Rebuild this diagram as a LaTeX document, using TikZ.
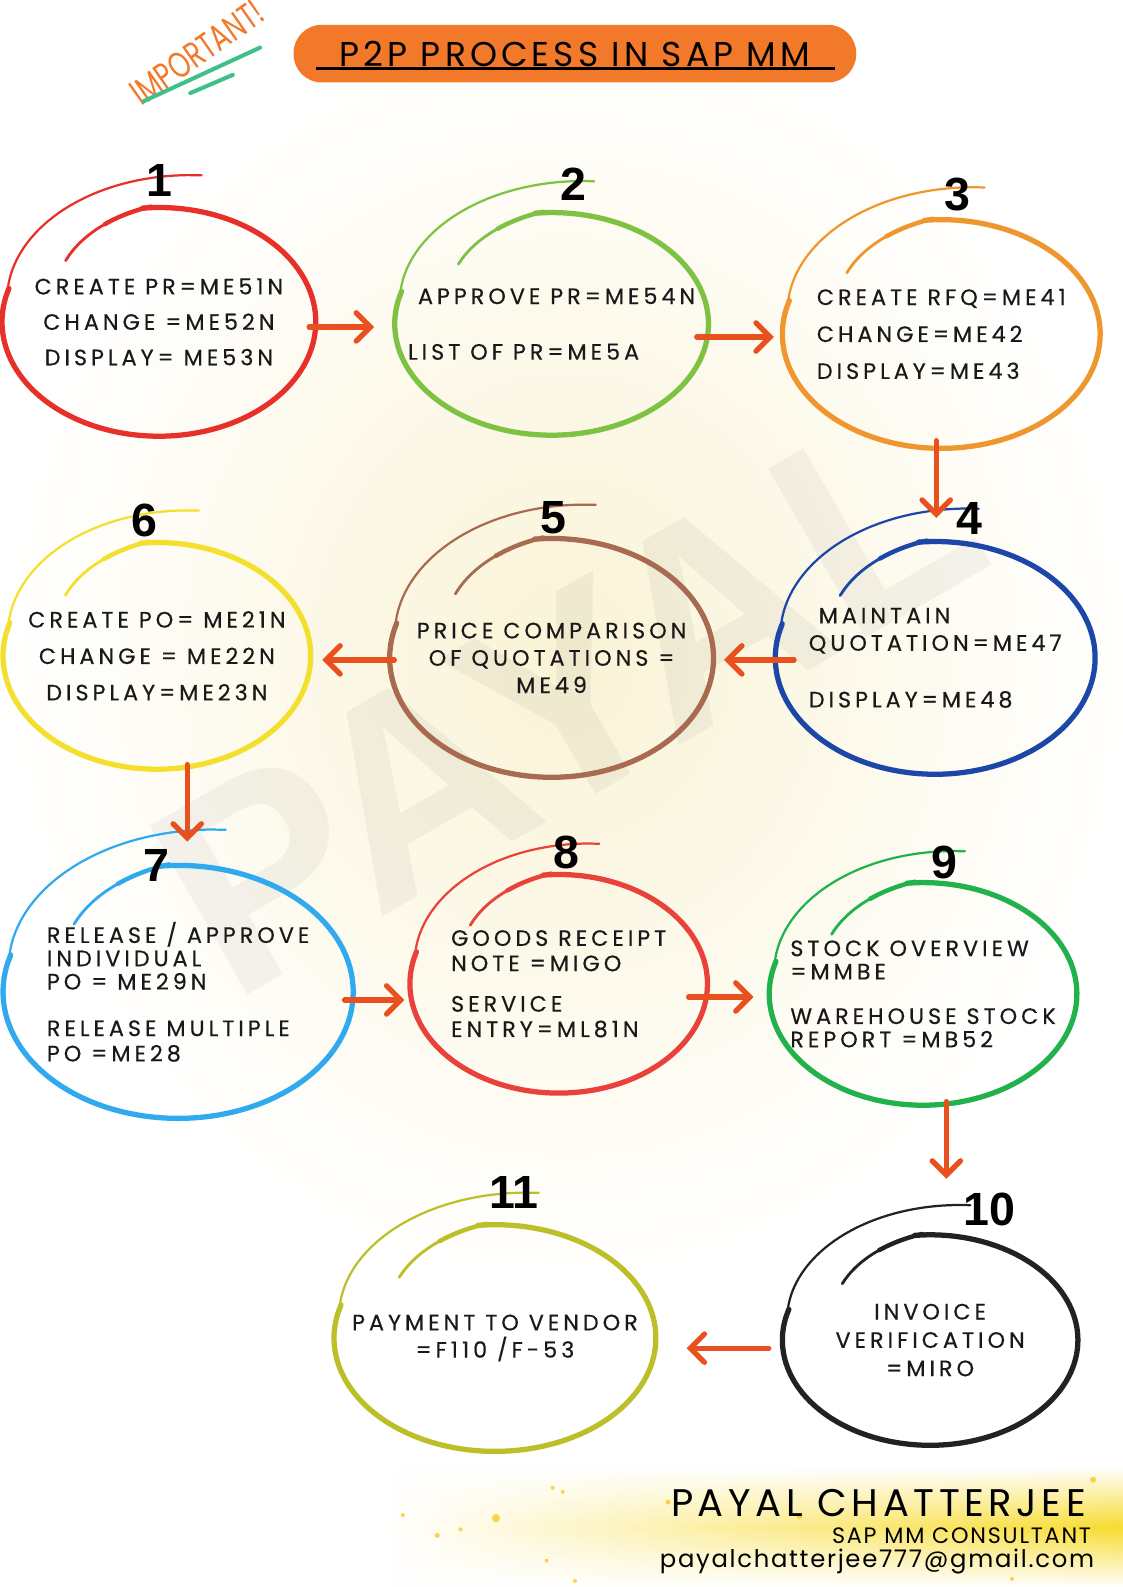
\documentclass[tikz,border=0pt]{standalone}
\usepackage{fontspec}
\setmainfont{Poppins}
\newfontfamily\bodyfont[LetterSpace=18,FakeBold=0.4]{Poppins}
\newfontfamily\signfont{Poppins}
\newfontfamily\numfont{Liberation Sans}
\newfontfamily\handfont[FakeStretch=0.72]{Poppins}
\usetikzlibrary{arrows.meta,positioning,fadings}

\definecolor{ringRed}{HTML}{E8302A}
\definecolor{ringGreen}{HTML}{7DC242}
\definecolor{ringOrange}{HTML}{F0962E}
\definecolor{ringBlue}{HTML}{1C47A8}
\definecolor{ringBrown}{HTML}{A86A50}
\definecolor{ringYellow}{HTML}{F5DF2E}
\definecolor{ringSky}{HTML}{30A9EE}
\definecolor{ringRose}{HTML}{E8423A}
\definecolor{ringEmerald}{HTML}{22B24C}
\definecolor{ringBlack}{HTML}{222222}
\definecolor{ringOlive}{HTML}{BDBF28}
\definecolor{arrowRed}{HTML}{E8501E}
\definecolor{headOrange}{HTML}{F2782A}
\definecolor{impGreen}{HTML}{3FBF8A}
\definecolor{glow}{HTML}{FAF3D6}
\definecolor{signYellow}{HTML}{F8DC30}

\tikzfading[name=bandfade, top color=transparent!100, bottom color=transparent!100, middle color=transparent!0]

% hand drawn loop: centre x, centre y, x radius, y radius, colour
\newcommand{\ring}[5]{%
  \draw[#5, line width=1.4pt, line cap=round] plot[smooth, domain=138:110, samples=8, variable=\t]
    ({#1+(0.80+0.20*(138-\t)/43)*#3*cos(\t)},{#2+(0.80+0.20*(138-\t)/43)*#4*sin(\t)});
  \draw[#5, line width=2.2pt, line cap=round] plot[smooth, domain=112:93, samples=6, variable=\t]
    ({#1+(0.80+0.20*(138-\t)/43)*#3*cos(\t)},{#2+(0.80+0.20*(138-\t)/43)*#4*sin(\t)});
  \draw[#5, line width=2.6pt, line cap=round] plot[smooth, domain=96:-197, samples=60, variable=\t]
    ({#1+#3*cos(\t)},{#2+#4*sin(\t)});
  \draw[#5, line width=1.1pt, line cap=round] plot[smooth, domain=-195:-282, samples=20, variable=\t]
    ({#1+(1+0.31*(-195-\t)/87)*#3*cos(\t)},{#2+(1+0.31*(-195-\t)/87)*#4*sin(\t)});
}

\tikzset{
  stage/.style={inner sep=0pt, align=center, text=black!90, font=\bodyfont\fontsize{11}{13.5}\selectfont},
  num/.style={inner sep=0pt, font=\numfont\bfseries\fontsize{23}{23}\selectfont},
  flow/.style={draw=arrowRed, line width=2.6pt, line cap=round, -{Straight Barb[length=7pt,width=14pt,line cap=round]}}
}

\begin{document}
\begin{tikzpicture}[x=0.5pt,y=0.5pt]
\useasboundingbox (0,0) rectangle (1109,-1568);
\fill[white] (0,0) rectangle (1109,-1568);
\shade[inner color=glow, outer color=white] (560,-650) ellipse [x radius=560, y radius=620];
\node[rotate=30, text=black, opacity=0.045, font=\numfont\bfseries\fontsize{140}{140}\selectfont] (mark) at (560,-690) {PAYAL};

% heading
\node[fill=headOrange, rounded corners=14pt, minimum width=278pt, minimum height=28.5pt,
  font=\signfont\addfontfeature{LetterSpace=12}\fontsize{17}{17}\selectfont] (head) at (568,-53) {P2P PROCESS IN SAP MM};
\draw[line width=1.6pt] ([xshift=11.5pt,yshift=7pt]head.south west) -- ([xshift=-10.5pt,yshift=7pt]head.south east);
\node[rotate=35, text=headOrange, font=\handfont\fontsize{18}{18}\selectfont] (imp) at (195,-52) {IMPORTANT!};
\draw[impGreen, line width=2pt, line cap=round] (142,-100) -- (257,-47);
\draw[impGreen, line width=2pt, line cap=round] (188,-92) -- (230,-74);

% loops
\ring{157}{-318}{155}{113}{ringRed}
\ring{545}{-320}{155}{110}{ringGreen}
\ring{930}{-330}{157}{113}{ringOrange}
\ring{924}{-650}{158}{115}{ringBlue}
\ring{545}{-650}{160}{118}{ringBrown}
\ring{155}{-648}{152}{112}{ringYellow}
\ring{176}{-980}{173}{125}{ringSky}
\ring{552}{-972}{147}{108}{ringRose}
\ring{912}{-982}{152}{110}{ringEmerald}
\ring{919}{-1324}{146}{104}{ringBlack}
\ring{489}{-1322}{159}{112}{ringOlive}

% steps
\node[stage, minimum width=155pt, minimum height=113pt] (s1) at (157,-318)
  {CREATE PR=ME51N\\[4pt] CHANGE =ME52N\\[4pt] DISPLAY= ME53N};
\node[stage, align=left, minimum width=155pt, minimum height=110pt] (s2) at (545,-320)
  {\ APPROVE PR=ME54N\\[14pt] LIST OF PR=ME5A};
\node[stage, align=left, minimum width=157pt, minimum height=113pt] (s3) at (930,-330)
  {CREATE RFQ=ME41\\[4.75pt] CHANGE=ME42\\[4.75pt] DISPLAY=ME43};
\node[stage, align=left, minimum width=158pt, minimum height=115pt] (s4) at (924,-650)
  {\ MAINTAIN\\ QUOTATION=ME47\\[14.5pt] DISPLAY=ME48};
\node[stage, minimum width=160pt, minimum height=118pt] (s5) at (545,-650)
  {PRICE COMPARISON\\ OF QUOTATIONS =\\ ME49};
\node[stage, minimum width=152pt, minimum height=112pt] (s6) at (155,-648)
  {CREATE PO= ME21N\\[4.5pt] CHANGE = ME22N\\[4.5pt] DISPLAY=ME23N};
\node[stage, align=left, minimum width=173pt, minimum height=125pt] (s7) at (176,-980)
  {RELEASE / APPROVE\\[-2pt] INDIVIDUAL\\[-2pt] PO = ME29N\\[9.5pt] RELEASE MULTIPLE\\[-1pt] PO =ME28};
\node[stage, align=left, minimum width=147pt, minimum height=108pt] (s8) at (552,-972)
  {GOODS RECEIPT\\[-1pt] NOTE =MIGO\\[6.5pt] SERVICE\\[-1pt] ENTRY=ML81N};
\node[stage, align=left, minimum width=152pt, minimum height=110pt] (s9) at (912,-982)
  {STOCK OVERVIEW\\[-2pt] =MMBE\\[8.5pt] WAREHOUSE STOCK\\[-2pt] REPORT =MB52};
\node[stage, minimum width=146pt, minimum height=104pt] (s10) at (919,-1324)
  {INVOICE\\[0.5pt] VERIFICATION\\[0.5pt] =MIRO};
\node[stage, minimum width=159pt, minimum height=112pt] (s11) at (489,-1322)
  {PAYMENT TO VENDOR\\ =F110 /F-53};

% numbers
\node[num] (n1) at (158,-178) {1};
\node[num] (n2) at (567,-182) {2};
\node[num] (n3) at (946,-192) {3};
\node[num] (n4) at (958,-512) {4};
\node[num] (n5) at (547,-512) {5};
\node[num] (n6) at (143,-514) {6};
\node[num] (n7) at (155,-855) {7};
\node[num] (n8) at (560,-842) {8};
\node[num] (n9) at (933,-852) {9};
\node[num] (n10) at (978,-1195) {10};
\node[num] (n11) at (508,-1178) {11};

% arrows
\draw[flow, shorten <=-3.5pt, shorten >=10pt] ([yshift=-2.5pt]s1.east) -- ([yshift=-1.5pt]s2.west);
\draw[flow, shorten <=-6pt, shorten >=4pt] ([yshift=-6.5pt]s2.east) -- ([yshift=-1.5pt]s3.west);
\draw[flow, shorten <=-4pt, shorten >=11.5pt] ([xshift=-2.5pt]s3.south) -- ([xshift=0.5pt]s4.north);
\draw[flow, shorten <=-9.5pt, shorten >=5pt] ([yshift=-1pt]s4.west) -- ([yshift=-1pt]s5.east);
\draw[flow, shorten <=-2.5pt, shorten >=5.5pt] ([yshift=-1pt]s5.west) -- ([yshift=-2pt]s6.east);
\draw[flow, shorten <=-2.5pt, shorten >=11.5pt] ([xshift=15pt]s6.south) -- ([xshift=4.5pt]s7.north);
\draw[flow, shorten <=-4.5pt, shorten >=2.5pt] ([yshift=-4pt]s7.east) -- ([yshift=-8pt]s8.west);
\draw[flow, shorten <=-9.5pt, shorten >=7.5pt] ([yshift=-6.5pt]s8.east) -- ([yshift=-1.5pt]s9.west);
\draw[flow, shorten <=-2pt, shorten >=27.5pt] ([xshift=11.5pt]s9.south) -- ([xshift=8pt]s10.north);
\draw[flow, shorten <=6.5pt, shorten >=15pt] ([yshift=-4pt]s10.west) -- ([yshift=-5pt]s11.east);

% signature
\shade[left color=white, right color=signYellow, path fading=bandfade] (380,-1450) rectangle (1109,-1568);
\foreach \dx/\dy/\r in {398/1497/2, 432/1517/2.5, 455/1511/2, 490/1500/4, 546/1470/2, 556/1474/2,
    540/1542/2, 568/1562/2, 660/1484/2.5, 790/1498/3, 1080/1462/3, 1000/1560/2}
  \fill[signYellow!80!orange, opacity=0.8] (\dx,-\dy) circle (\r);
\node[anchor=east, font=\signfont\addfontfeature{LetterSpace=12}\fontsize{19}{19}\selectfont] (sign) at (1080,-1485) {PAYAL CHATTERJEE};
\node[anchor=east, font=\signfont\addfontfeature{LetterSpace=8}\fontsize{11}{11}\selectfont] (role) at (1085,-1517) {SAP MM CONSULTANT};
\node[anchor=east, font=\signfont\addfontfeature{LetterSpace=7}\fontsize{12}{12}\selectfont] (mail) at (1088,-1543) {payalchatterjee777@gmail.com};
\end{tikzpicture}
\end{document}
